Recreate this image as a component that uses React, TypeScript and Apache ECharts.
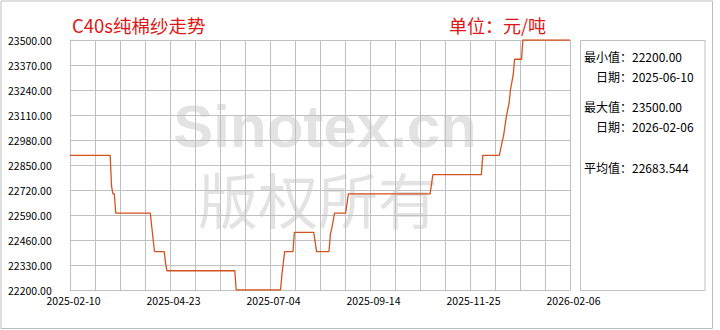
import React, { useEffect, useRef } from "react";
import * as echarts from "echarts";

const dates = [
  "2025-02-10", "2025-03-11", "2025-03-12", "2025-03-13", "2025-03-14", "2025-03-15",
  "2025-04-09", "2025-04-10", "2025-04-12", "2025-04-19", "2025-04-20", "2025-04-21",
  "2025-06-09", "2025-06-10", "2025-07-12", "2025-07-13", "2025-07-15", "2025-07-21",
  "2025-07-22", "2025-08-05", "2025-08-07", "2025-08-16", "2025-08-17", "2025-08-18",
  "2025-08-20", "2025-08-28", "2025-08-30", "2025-10-28", "2025-10-30", "2025-12-04",
  "2025-12-05", "2025-12-17", "2025-12-19", "2025-12-20", "2025-12-22", "2025-12-24",
  "2025-12-25", "2025-12-27", "2025-12-28", "2026-01-02", "2026-01-03", "2026-02-06",
];
const prices = [
  22900, 22900, 22740, 22700, 22700, 22600,
  22600, 22530, 22400, 22400, 22340, 22300,
  22300, 22200, 22200, 22280, 22400, 22400,
  22500, 22500, 22400, 22400, 22490, 22520,
  22600, 22600, 22700, 22700, 22800, 22800,
  22900, 22900, 22970, 23000, 23100, 23170,
  23240, 23320, 23400, 23400, 23500, 23500,
];
const xTickLabels = ["2025-02-10", "2025-04-23", "2025-07-04", "2025-09-14", "2025-11-25", "2026-02-06"];
const Y_MIN = 22200;
const Y_MAX = 23500;
const Y_STEP = 130;
const title = "C40s纯棉纱走势";
const unitText = "单位：元/吨";
const statLines = [
  { label: "最小值：", value: "22200.00", indent: false },
  { label: "日期：", value: "2025-06-10", indent: true },
  { label: "最大值：", value: "23500.00", indent: false },
  { label: "日期：", value: "2026-02-06", indent: true },
  { label: "平均值：", value: "22683.544", indent: false },
];

const START = Date.UTC(2025, 1, 10);
const dayIndex = (s: string) => {
  const [y, m, d] = s.split("-").map(Number);
  return Math.round((Date.UTC(y, m - 1, d) - START) / 86400000);
};
const X_MAX = dayIndex(xTickLabels[xTickLabels.length - 1]);

export default function App() {
  const ref = useRef<HTMLDivElement>(null);
  useEffect(() => {
    document.body.style.margin = "0";
    if (!ref.current) return;
    const chart = echarts.init(ref.current, null, { renderer: "svg" });
    const FONT = "'Noto Sans CJK SC', sans-serif";
    const statY = [56, 76, 106, 126, 167];
    const statEls: any[] = [];
    statLines.forEach((s, i) => {
      statEls.push({
        type: "text",
        style: {
          text: s.label + s.value,
          x: s.indent ? 596 : 584,
          y: statY[i],
          verticalAlign: "middle",
          fill: "#000",
          font: `12px ${FONT}`,
        },
      });
    });
    chart.setOption({
      animation: false,
      backgroundColor: "#fff",
      grid: { left: 70, right: 150, top: 40, bottom: 40 },
      xAxis: {
        type: "value",
        min: 0,
        max: X_MAX,
        interval: X_MAX / 20,
        axisLine: { show: true, lineStyle: { color: "#c0c0c0" } },
        axisTick: { show: false },
        splitLine: { show: true, lineStyle: { color: "#c0c0c0", width: 1 } },
        axisLabel: {
          margin: 5,
          color: "#000",
          fontSize: 10.5,
          fontFamily: FONT,
          padding: [0, 0, 0, 7],
          showMinLabel: true,
          showMaxLabel: true,
          formatter: (_v: number, idx: number) => (idx % 4 === 0 ? xTickLabels[idx / 4] : ""),
        },
      },
      yAxis: {
        type: "value",
        min: Y_MIN,
        max: Y_MAX,
        interval: Y_STEP,
        axisLine: { show: true, lineStyle: { color: "#c0c0c0" } },
        axisTick: { show: false },
        splitLine: { show: true, lineStyle: { color: "#c0c0c0", width: 1 } },
        axisLabel: {
          align: "left",
          margin: 62,
          color: "#000",
          fontSize: 10.5,
          fontFamily: FONT,
          padding: [0, 0, 7, 0],
          formatter: (v: number) => v.toFixed(2),
        },
      },
      series: [
        {
          type: "line",
          data: dates.map((d, i) => [dayIndex(d), prices[i]]),
          showSymbol: false,
          lineStyle: { color: "#d4531c", width: 1.3 },
          z: 5,
        },
      ],
      graphic: [
        {
          type: "rect",
          shape: { x: 1, y: 1, width: 711.5, height: 327.5 },
          style: { fill: "none", stroke: "#bdbdbd", lineWidth: 1 },
        },
        {
          type: "text",
          style: {
            text: "Sinotex.cn",
            x: 325,
            y: 126,
            align: "center",
            verticalAlign: "middle",
            fill: "rgba(128,128,128,0.22)",
            font: "bold 60px 'Liberation Sans', sans-serif",
          },
        },
        {
          type: "text",
          style: {
            text: "版权所有",
            x: 318,
            y: 197,
            align: "center",
            verticalAlign: "middle",
            fill: "rgba(128,128,128,0.22)",
            font: `60px ${FONT}`,
          },
        },
        {
          type: "text",
          style: {
            text: title,
            x: 72,
            y: 25,
            verticalAlign: "middle",
            fill: "#e01515",
            font: `18.5px ${FONT}`,
          },
        },
        {
          type: "text",
          style: {
            text: unitText,
            x: 449,
            y: 25,
            verticalAlign: "middle",
            fill: "#e01515",
            font: `18px ${FONT}`,
          },
        },
        {
          type: "rect",
          shape: { x: 580.5, y: 40.5, width: 124.5, height: 250 },
          style: { fill: "#fff", stroke: "#c0c0c0", lineWidth: 1 },
        },
        ...statEls,
      ],
    });
    return () => chart.dispose();
  }, []);
  return <div ref={ref} style={{ width: 720, height: 330 }} />;
}
